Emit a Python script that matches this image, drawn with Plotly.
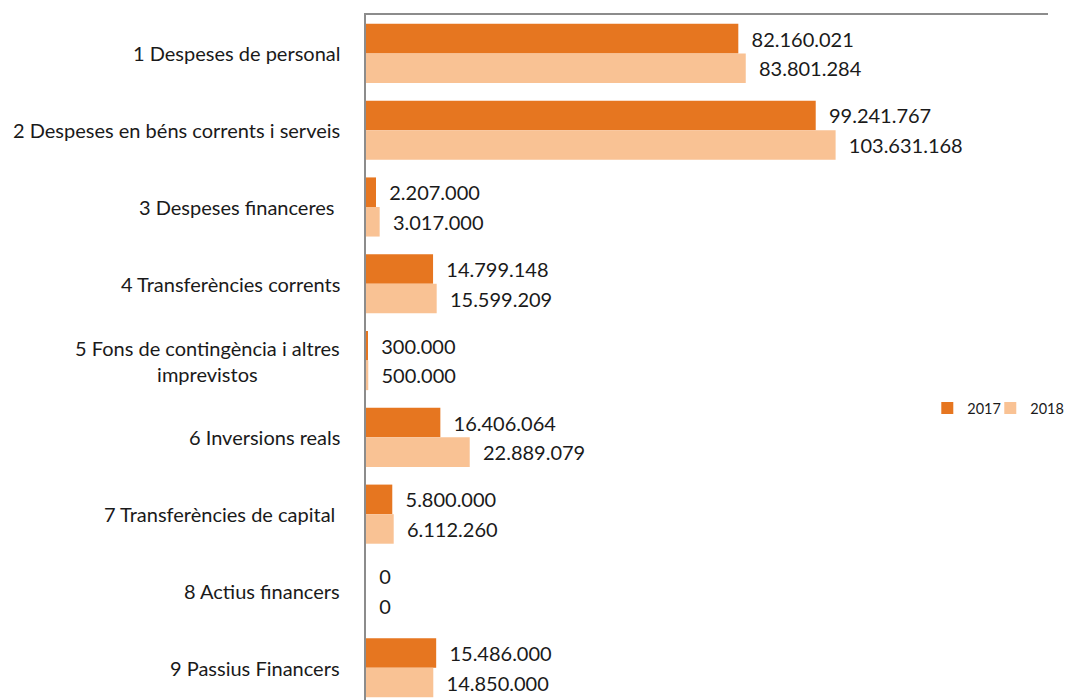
import plotly.graph_objects as go

categories = [
    "1 Despeses de personal",
    "2 Despeses en béns corrents i serveis",
    "3 Despeses financeres ",
    "4 Transferències corrents",
    "5 Fons de contingència i altres<br>imprevistos",
    "6 Inversions reals",
    "7 Transferències de capital ",
    "8 Actius financers",
    "9 Passius Financers",
]
values_2017 = [82160021, 99241767, 2207000, 14799148, 300000, 16406064, 5800000, 0, 15486000]
values_2018 = [83801284, 103631168, 3017000, 15599209, 500000, 22889079, 6112260, 0, 14850000]
series_names = ["2017", "2018"]

FONT = "Lato"
C2017 = "#E67620"
C2018 = "#F9C294"

def fmt(v):
    return "\u00a0\u00a0" + f"{v:,}".replace(",", ".")

ids = list(range(len(categories)))

fig = go.Figure()
for name, vals, col, lg in [(series_names[0], values_2017, C2017, "legend"),
                            (series_names[1], values_2018, C2018, "legend2")]:
    fig.add_trace(go.Bar(
        name=name, x=vals, y=ids, orientation="h",
        marker=dict(color=col, line=dict(width=0)),
        text=[fmt(v) for v in vals], textposition="outside",
        textfont=dict(family=FONT, size=20, color="#1a1a1a"),
        constraintext="none", cliponaxis=False, legend=lg,
    ))

for i, c in enumerate(categories):
    fig.add_annotation(
        x=0, xref="paper", y=i, yref="y", xanchor="right", yanchor="middle",
        xshift=-24, text=c, showarrow=False, align="center",
        font=dict(family=FONT, size=20, color="#1a1a1a"),
    )

leg_common = dict(orientation="v", xref="container", yref="container",
                  y=0.422, yanchor="middle", xanchor="left",
                  font=dict(family=FONT, size=14.5, color="#1a1a1a"),
                  itemwidth=30, bgcolor="rgba(0,0,0,0)", borderwidth=0)

fig.update_layout(
    width=1064, height=692,
    margin=dict(l=358, r=24, t=7, b=0, autoexpand=False),
    barmode="group", bargap=0.23, bargroupgap=0,
    plot_bgcolor="white", paper_bgcolor="white",
    showlegend=True,
    legend=dict(x=0.8640, **leg_common),
    legend2=dict(x=0.9232, **leg_common),
    xaxis=dict(range=[0, 150.5e6], side="top", showline=True, linecolor="#8c8c8c", linewidth=1.5,
               showticklabels=False, showgrid=False, zeroline=False, ticks=""),
    yaxis=dict(range=[8.42, -0.5], showline=True, linecolor="#8c8c8c", linewidth=1.5,
               showticklabels=False, showgrid=False, zeroline=False, ticks=""),
)

fig.write_html("out.html")
